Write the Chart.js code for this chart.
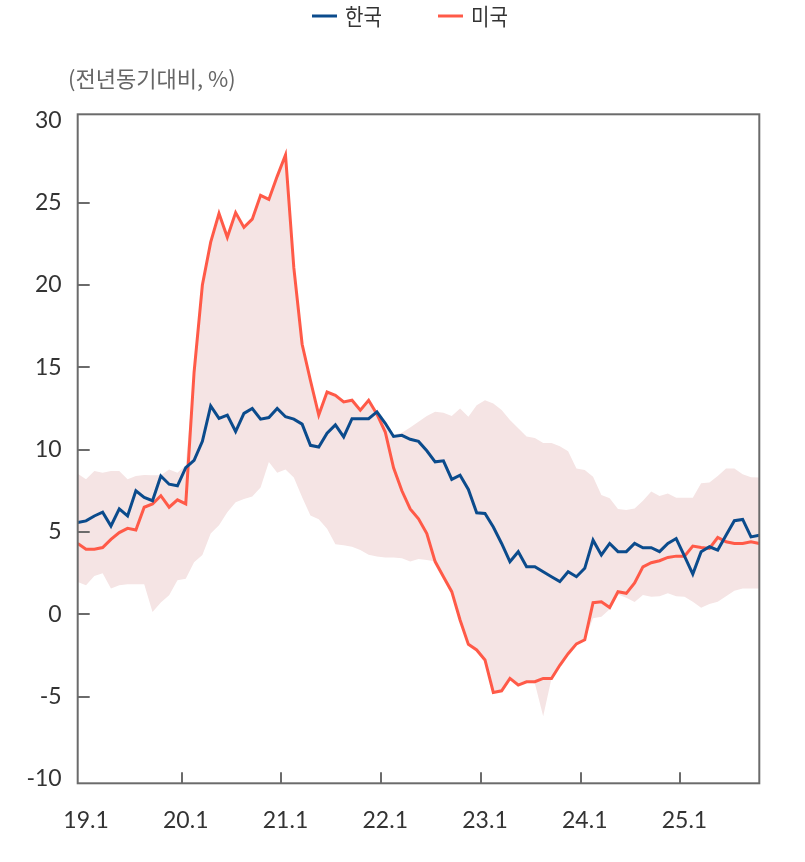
<!DOCTYPE html>
<html>
<head>
<meta charset="utf-8">
<script src="https://cdn.jsdelivr.net/npm/chart.js@4.4.1/dist/chart.umd.min.js"></script>
<style>
  html, body { margin: 0; padding: 0; background: #fff; }
  #wrap { width: 805px; height: 862px; }
</style>
</head>
<body>
<div id="wrap"><canvas id="chart" width="805" height="862"></canvas></div>
<script>
// monthly, 18.12 ~ 25.10 (index 0 = 18.12)
var tickLabels = ["19.1", "20.1", "21.1", "22.1", "23.1", "24.1", "25.1"];
var tickIndex = [1, 13, 25, 37, 49, 61, 73];

var korea = [5.57, 5.67, 5.97, 6.2, 5.36, 6.4, 5.97, 7.5, 7.1, 6.9, 8.4, 7.9, 7.8, 8.9, 9.35, 10.5, 12.65, 11.9, 12.1, 11.1,
  12.2, 12.5, 11.85, 11.95, 12.5, 12.0, 11.85, 11.55, 10.26, 10.16, 11.0, 11.5, 10.77, 11.88, 11.88, 11.88, 12.29, 11.6, 10.8, 10.87,
  10.63, 10.5, 9.93, 9.26, 9.32, 8.19, 8.45, 7.58, 6.16, 6.12, 5.3, 4.3, 3.19, 3.8, 2.89, 2.89, 2.58, 2.28, 1.98, 2.58,
  2.28, 2.79, 4.5, 3.6, 4.3, 3.8, 3.8, 4.3, 4.04, 4.04, 3.8, 4.3, 4.6, 3.53, 2.44, 3.8, 4.1, 3.9, 4.8, 5.68,
  5.76, 4.7, 4.8];

var usa = [4.3, 3.95, 3.95, 4.05, 4.55, 4.96, 5.22, 5.12, 6.5, 6.7, 7.2, 6.5, 6.95, 6.7, 14.7, 20.0, 22.6, 24.35, 22.9, 24.4,
  23.5, 24.0, 25.45, 25.2, 26.6, 27.9, 21.05, 16.4, 14.2, 12.1, 13.5, 13.3, 12.9, 13.0, 12.4, 13.0, 12.15, 11.07, 8.9, 7.5,
  6.4, 5.8, 4.9, 3.2, 2.28, 1.37, -0.35, -1.83, -2.17, -2.78, -4.75, -4.65, -3.9, -4.3, -4.1, -4.1, -3.9, -3.9, -3.1, -2.4,
  -1.8, -1.55, 0.7, 0.76, 0.41, 1.37, 1.27, 1.9, 2.88, 3.13, 3.25, 3.45, 3.53, 3.53, 4.14, 4.06, 4.0, 4.66, 4.4, 4.3,
  4.3, 4.4, 4.3];

// range band (upper / lower edge)
var bandHigh = [8.54, 8.2, 8.7, 8.6, 8.7, 8.7, 8.2, 8.4, 8.46, 8.44, 8.44, 8.8, 8.6, 9.05, 14.7, 20.0, 22.6, 24.35, 22.9, 24.4,
  23.5, 24.0, 25.45, 25.2, 26.6, 27.9, 21.05, 16.4, 14.2, 12.1, 13.5, 13.3, 12.9, 13.0, 12.4, 13.0, 12.29, 11.6, 10.9, 11.03,
  11.35, 11.7, 12.04, 12.3, 12.24, 12.04, 12.5, 12.0, 12.7, 13.0, 12.8, 12.4, 11.8, 11.3, 10.8, 10.7, 10.4, 10.4, 10.2, 9.9,
  8.86, 8.76, 8.35, 7.24, 7.04, 6.4, 6.33, 6.43, 6.9, 7.45, 7.18, 7.34, 7.08, 7.08, 7.08, 7.95, 8.0, 8.4, 8.86, 8.86,
  8.5, 8.32, 8.3];

var bandLow = [1.96, 1.76, 2.33, 2.49, 1.56, 1.76, 1.82, 1.82, 1.82, 0.14, 0.71, 1.15, 2.06, 2.16, 3.16, 3.6, 4.9, 5.4, 6.2, 6.8,
  7.0, 7.15, 7.7, 9.25, 8.6, 8.8, 8.3, 7.1, 6.0, 5.77, 5.2, 4.25, 4.19, 4.1, 3.9, 3.62, 3.5, 3.45, 3.45, 3.4,
  3.2, 3.35, 3.3, 3.2, 2.28, 1.37, -0.35, -1.83, -2.17, -2.78, -4.75, -4.65, -3.9, -4.3, -4.1, -4.2, -6.2, -3.9, -3.1, -2.4,
  -1.8, -1.55, -0.25, -0.15, 0.3, 1.2, 1.0, 0.75, 1.17, 1.06, 1.1, 1.27, 1.1, 1.06, 0.76, 0.4, 0.62, 0.76, 1.1, 1.43,
  1.57, 1.57, 1.57];

var yTickMarks = [-5, 0, 5, 10, 15, 20, 25];

function toPoints(arr) {
  return arr.map(function(v, i) { return { x: i, y: v }; });
}

var axisColor = "#6b6b6b";
var textColor = "#333333";

// draw text squeezed to a target width (reference font is narrow)
function fitText(ctx, text, x, y, width) {
  var w = ctx.measureText(text).width;
  ctx.save();
  ctx.translate(x, y);
  ctx.scale(Math.min(1, width / w), 1);
  ctx.fillText(text, 0, 0);
  ctx.restore();
}

// frame, inward tick marks, unit label and legend
var decorPlugin = {
  id: "decor",
  afterDatasetsDraw: function(chart) {
    var ctx = chart.ctx;
    var a = chart.chartArea;
    var xs = chart.scales.x;
    var ys = chart.scales.y;
    ctx.save();
    ctx.strokeStyle = axisColor;
    ctx.lineWidth = 2;
    ctx.strokeRect(a.left, a.top, a.right - a.left, a.bottom - a.top);
    ctx.beginPath();
    yTickMarks.forEach(function(v) {
      var py = Math.round(ys.getPixelForValue(v));
      ctx.moveTo(a.left, py);
      ctx.lineTo(a.left + 12, py);
    });
    tickIndex.slice(1).forEach(function(v) {
      var px = Math.round(xs.getPixelForValue(v - 0.5));
      ctx.moveTo(px, a.bottom);
      ctx.lineTo(px, a.bottom - 11);
    });
    ctx.stroke();
    ctx.restore();
  },
  afterDraw: function(chart) {
    var ctx = chart.ctx;
    ctx.save();
    ctx.textBaseline = "middle";
    ctx.textAlign = "left";
    ctx.fillStyle = "#666666";
    ctx.font = '22px "Noto Sans CJK KR"';
    fitText(ctx, "(전년동기대비, %)", 68, 79, 170);

    var items = [
      { text: "한국", color: "#0b4b8c", x: 312 },
      { text: "미국", color: "#ff5a48", x: 438 }
    ];
    ctx.font = '23px "Noto Sans CJK KR"';
    items.forEach(function(it) {
      ctx.strokeStyle = it.color;
      ctx.lineWidth = 3;
      ctx.beginPath();
      ctx.moveTo(it.x, 16);
      ctx.lineTo(it.x + 25, 16);
      ctx.stroke();
      ctx.fillStyle = textColor;
      fitText(ctx, it.text, it.x + 33, 16, 37);
    });
    ctx.restore();
  }
};

var chartConfig = {
  type: "line",
  data: {
    datasets: [
      {
        label: "한국",
        data: toPoints(korea),
        borderColor: "#0b4b8c",
        backgroundColor: "#0b4b8c",
        borderWidth: 3,
        pointRadius: 0,
        tension: 0,
        fill: false
      },
      {
        label: "미국",
        data: toPoints(usa),
        borderColor: "#ff5a48",
        backgroundColor: "#ff5a48",
        borderWidth: 3,
        pointRadius: 0,
        tension: 0,
        fill: false
      },
      {
        label: "upper",
        data: toPoints(bandHigh),
        borderWidth: 0,
        borderColor: "rgba(0,0,0,0)",
        backgroundColor: "#f5e4e4",
        pointRadius: 0,
        tension: 0,
        fill: "+1"
      },
      {
        label: "lower",
        data: toPoints(bandLow),
        borderWidth: 0,
        borderColor: "rgba(0,0,0,0)",
        pointRadius: 0,
        tension: 0,
        fill: false
      }
    ]
  },
  options: {
    responsive: false,
    animation: false,
    devicePixelRatio: 1,
    layout: {
      padding: { top: 114.3, right: 45.7, left: 0, bottom: 0 }
    },
    plugins: {
      legend: { display: false },
      tooltip: { enabled: false }
    },
    scales: {
      x: {
        type: "linear",
        min: 0,
        max: 82,
        grid: { display: false, drawTicks: false },
        border: { display: false },
        afterBuildTicks: function(scale) {
          scale.ticks = tickIndex.map(function(v) { return { value: v }; });
        },
        afterFit: function(scale) { scale.height = 862 - 783.3; },
        ticks: {
          autoSkip: false,
          maxRotation: 0,
          padding: 23,
          color: textColor,
          font: { family: "Lato", size: 23 },
          callback: function(value) {
            var k = tickIndex.indexOf(value);
            return k >= 0 ? tickLabels[k] : "";
          }
        }
      },
      y: {
        min: -10.27,
        max: 30.37,
        grid: { display: false, drawTicks: false },
        border: { display: false },
        afterFit: function(scale) { scale.width = 77.7; },
        ticks: {
          stepSize: 5,
          includeBounds: false,
          padding: 16,
          color: textColor,
          font: { family: "Lato", size: 23 }
        }
      }
    }
  },
  plugins: [decorPlugin]
};

new Chart(document.getElementById("chart"), chartConfig);
</script>
</body>
</html>
